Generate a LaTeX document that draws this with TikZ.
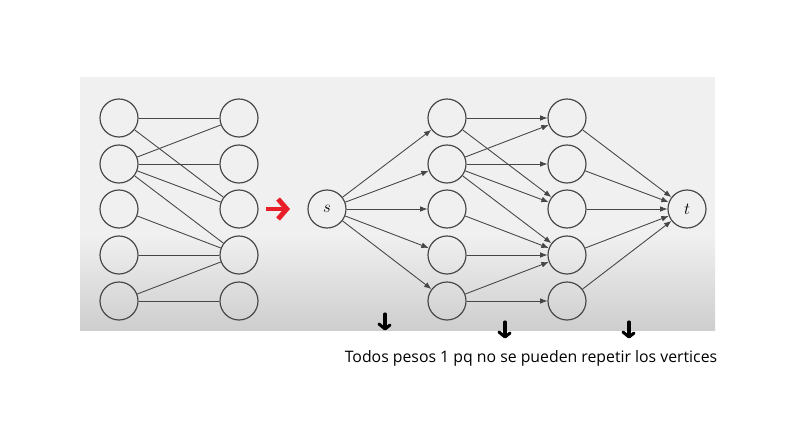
\documentclass[tikz,border=0pt]{standalone}
\usepackage{fontspec}
\newfontfamily\notefont{Open Sans}
\usetikzlibrary{arrows.meta}
\definecolor{bgtop}{RGB}{240,240,240}
\definecolor{bgbot}{RGB}{206,206,206}
\definecolor{linegray}{RGB}{70,70,70}
\definecolor{arrowred}{RGB}{232,30,40}
\tikzstyle{vertex}=[circle,draw=linegray,line width=1pt,minimum size=1.14cm,inner sep=0pt,font=\Large]
\tikzstyle{edge}=[draw=linegray,line width=0.75pt]
\tikzstyle{arc}=[edge,-{Latex[length=2.2mm,width=1.7mm]}]
\newcommand{\handmark}[2]{
\draw[line width=2.6pt,line cap=round] (#1,{#2-8}) -- (#1,{#2+6});
\draw[line width=2.6pt,line cap=round,line join=round] ({#1-6},{#2+2}) -- (#1,{#2+7}) -- ({#1+5},{#2+3});
}

\begin{document}
\begin{tikzpicture}[x=0.03cm,y=-0.03cm]
\useasboundingbox (0,0) rectangle (800,444);
% background
\fill[bgtop] (80,77) rectangle (715,236);
\shade[top color=bgtop,bottom color=bgbot] (80,235) rectangle (715,330);

% left graph
\foreach \i/\y in {1/118,2/164,3/209,4/255,5/301} {
  \node[vertex] (u\i) at (119,\y) {};
  \node[vertex] (v\i) at (239,\y) {};
}
\foreach \a/\b in {1/1,1/3,2/1,2/2,2/3,2/4,3/4,4/4,5/4,5/5}
  \draw[edge] (u\a) -- (v\b);

% red arrow
\coordinate (flechaA) at (266,209);
\coordinate (flechaB) at (290,209);
\draw[arrowred,line width=4.2pt,-{Straight Barb[length=2.6mm,width=6mm,line width=4.2pt]}] (flechaA) -- (flechaB);

% flow network
\node[vertex] (s) at (327,209) {$s$};
\node[vertex] (t) at (687,209) {$t$};
\foreach \i/\y in {1/118,2/164,3/209,4/255,5/301} {
  \node[vertex] (a\i) at (447,\y) {};
  \node[vertex] (b\i) at (567,\y) {};
  \draw[arc] (s) -- (a\i);
  \draw[arc] (b\i) -- (t);
}
\foreach \a/\b in {1/1,1/3,2/1,2/2,2/3,2/4,3/4,4/4,5/4,5/5}
  \draw[arc] (a\a) -- (b\b);

% notes
\handmark{385}{322}
\handmark{505}{330}
\handmark{629}{330}
\node[font=\notefont\fontsize{13.5}{16}\selectfont] (nota) at (531,358) {Todos pesos 1 pq no se pueden repetir los vertices};
\end{tikzpicture}
\end{document}
